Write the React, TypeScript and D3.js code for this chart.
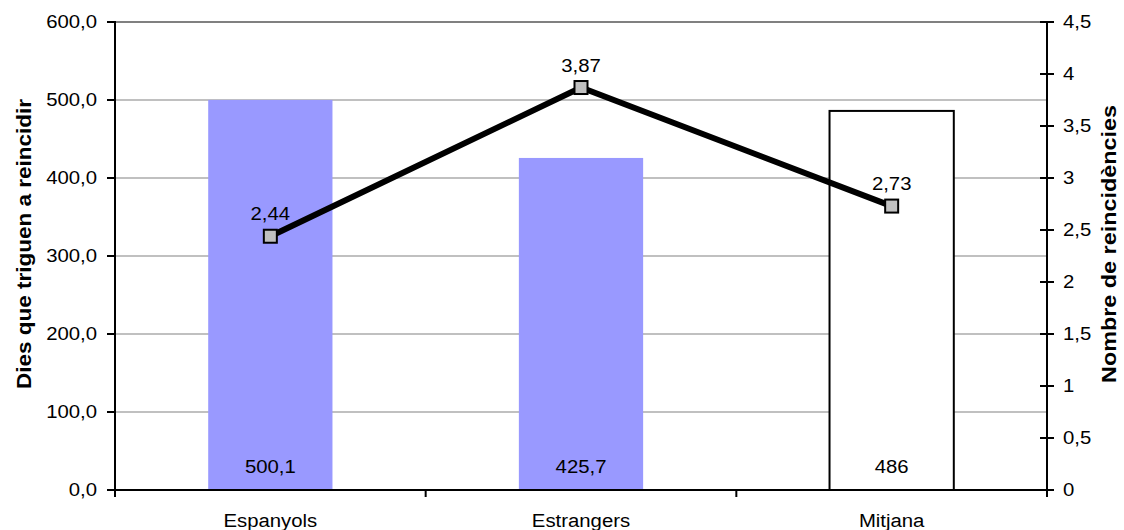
import React from "react";
import * as d3 from "d3";

const categories = ["Espanyols", "Estrangers", "Mitjana"];
const days = [500.1, 425.7, 486];
const dayLabels = ["500,1", "425,7", "486"];
const recid = [2.44, 3.87, 2.73];
const recidLabels = ["2,44", "3,87", "2,73"];
const leftTicks = [0, 100, 200, 300, 400, 500, 600];
const leftTickLabels = ["0,0", "100,0", "200,0", "300,0", "400,0", "500,0", "600,0"];
const rightTicks = [0, 0.5, 1, 1.5, 2, 2.5, 3, 3.5, 4, 4.5];
const rightTickLabels = ["0", "0,5", "1", "1,5", "2", "2,5", "3", "3,5", "4", "4,5"];
const barFills = ["#9999ff", "#9999ff", "#ffffff"];

const W = 1124;
const H = 530;
const L = 115;
const R = 1047;
const T = 22;
const B = 490;
const FONT = "'Liberation Sans', Arial, sans-serif";
const SX = 1.13;

function HText({ x, y, anchor, children, size = 18, weight = "normal" }: any) {
  return (
    <text
      transform={`translate(${x},${y}) scale(${SX},1)`}
      textAnchor={anchor}
      fontSize={size}
      fontWeight={weight}
      fontFamily={FONT}
      fill="#000"
    >
      {children}
    </text>
  );
}

export default function App() {
  const x = d3.scaleBand<string>().domain(categories).range([L, R]).paddingInner(0.6).paddingOuter(0.3);
  const yL = d3.scaleLinear().domain([0, 600]).range([B, T]);
  const yR = d3.scaleLinear().domain([0, 4.5]).range([B, T]);
  const cx = (c: string) => (x(c) as number) + x.bandwidth() / 2;
  const line = d3
    .line<number>()
    .x((_, i) => cx(categories[i]))
    .y((d) => yR(d));
  const boundaries = d3.range(categories.length + 1).map((i) => L + i * ((R - L) / categories.length));

  return (
    <svg width={W} height={H} style={{ position: "absolute", left: 0, top: 0, background: "#fff" }}>
      <rect x={0} y={0} width={W} height={H} fill="#fff" />
      {/* gridlines */}
      {leftTicks.filter((t) => t > 0 && t < 600).map((t) => (
        <line key={t} x1={L} x2={R} y1={yL(t)} y2={yL(t)} stroke="#c0c0c0" strokeWidth={2} />
      ))}
      <line x1={L} x2={R} y1={yL(600)} y2={yL(600)} stroke="#808080" strokeWidth={2} />
      {/* bars */}
      {categories.map((c, i) => (
        <rect
          key={c}
          x={x(c)}
          y={yL(days[i])}
          width={x.bandwidth()}
          height={B - yL(days[i])}
          fill={barFills[i]}
          stroke={barFills[i] === "#ffffff" ? "#000" : "none"}
          strokeWidth={2}
        />
      ))}
      {/* bar labels */}
      {categories.map((c, i) => (
        <HText key={c} x={cx(c)} y={473} anchor="middle">
          {dayLabels[i]}
        </HText>
      ))}
      {/* axes */}
      <line x1={L} x2={L} y1={T - 1} y2={B + 7} stroke="#000" strokeWidth={2} />
      <line x1={R} x2={R} y1={T - 1} y2={B + 7} stroke="#000" strokeWidth={2} />
      <line x1={L} x2={R} y1={B} y2={B} stroke="#000" strokeWidth={2} />
      {leftTicks.map((t, i) => (
        <g key={t}>
          <line x1={L - 8} x2={L} y1={yL(t)} y2={yL(t)} stroke="#000" strokeWidth={2} />
          <HText x={97} y={yL(t) + 6} anchor="end">
            {leftTickLabels[i]}
          </HText>
        </g>
      ))}
      {rightTicks.map((t, i) => (
        <g key={t}>
          <line x1={R - 7} x2={R + 7} y1={yR(t)} y2={yR(t)} stroke="#000" strokeWidth={2} />
          <HText x={1063} y={yR(t) + 6} anchor="start">
            {rightTickLabels[i]}
          </HText>
        </g>
      ))}
      {boundaries.map((bx, i) => (
        <line key={i} x1={bx} x2={bx} y1={B} y2={B + 7} stroke="#000" strokeWidth={2} />
      ))}
      {categories.map((c) => (
        <HText key={c} x={cx(c)} y={527} anchor="middle">
          {c}
        </HText>
      ))}
      {/* line series */}
      <path d={line(recid) || ""} fill="none" stroke="#000" strokeWidth={6} strokeLinejoin="miter" />
      {recid.map((v, i) => (
        <rect
          key={i}
          x={cx(categories[i]) - 6.5}
          y={yR(v) - 6.5}
          width={13}
          height={13}
          fill="#c0c0c0"
          stroke="#000"
          strokeWidth={2}
        />
      ))}
      {recid.map((v, i) => (
        <HText key={i} x={cx(categories[i])} y={yR(v) - 16} anchor="middle">
          {recidLabels[i]}
        </HText>
      ))}
      {/* titles */}
      <text
        transform={`translate(31,${(T + B) / 2 - 12}) rotate(-90)`}
        textAnchor="middle"
        fontSize={20}
        fontWeight="bold"
        fontFamily={FONT}
        textLength={290}
        lengthAdjust="spacingAndGlyphs"
      >
        Dies que triguen a reincidir
      </text>
      <text
        transform={`translate(1116,${(T + B) / 2 - 12}) rotate(-90)`}
        textAnchor="middle"
        fontSize={20}
        fontWeight="bold"
        fontFamily={FONT}
        textLength={278}
        lengthAdjust="spacingAndGlyphs"
      >
        Nombre de reincidències
      </text>
    </svg>
  );
}
